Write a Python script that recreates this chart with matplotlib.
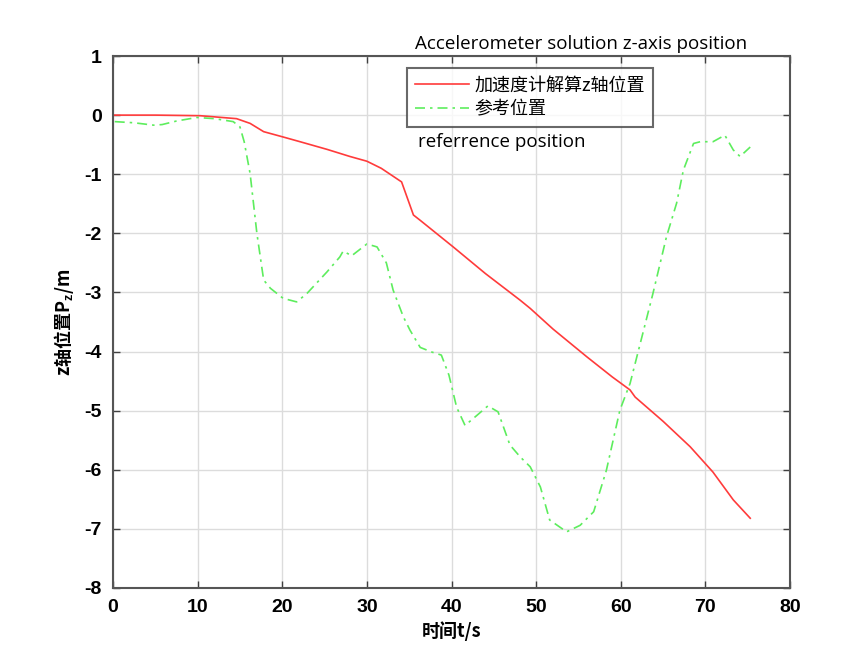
import matplotlib
matplotlib.use("Agg")
import matplotlib.pyplot as plt
from matplotlib import font_manager

# ---- data -------------------------------------------------------------------
acc_t = [0, 5, 10.3, 14.6, 16.2, 17.8, 20.1, 22.1, 25.3, 28.0, 30.0, 31.7, 34.1,
         35.5, 36.3, 40.2, 44.0, 48.1, 49.3, 52.0, 56.0, 59.0, 61.1, 61.7, 65.0,
         68.2, 70.9, 73.3, 75.3]
acc_z = [0.0, -0.0, -0.01, -0.06, -0.14, -0.28, -0.37, -0.45, -0.58, -0.70,
         -0.78, -0.90, -1.13, -1.69, -1.78, -2.23, -2.68, -3.13, -3.27, -3.62,
         -4.09, -4.43, -4.65, -4.77, -5.18, -5.61, -6.04, -6.51, -6.82]

ref_t = [0.2, 2.5, 4.8, 5.8, 7.5, 9.9, 12.0, 14.2, 15.0, 15.5, 16.2, 17.0, 17.8,
         18.6, 20.1, 21.7, 22.9, 25.3, 26.8, 27.2, 28.2, 30.0, 31.2, 32.3, 33.1,
         34.3, 35.1, 36.3, 37.7, 38.8, 39.7, 40.6, 41.6, 43.0, 44.3, 45.5, 46.9,
         48.1, 49.3, 50.5, 51.6, 53.6, 55.2, 56.8, 58.3, 59.9, 61.1, 62.7, 63.8,
         65.4, 66.6, 67.4, 68.6, 69.4, 70.9, 72.3, 73.3, 74.1, 75.3]
ref_z = [-0.11, -0.13, -0.17, -0.16, -0.10, -0.04, -0.06, -0.11, -0.20, -0.45,
         -0.99, -2.0, -2.79, -2.93, -3.10, -3.16, -3.02, -2.65, -2.40, -2.30,
         -2.38, -2.18, -2.23, -2.50, -2.96, -3.41, -3.64, -3.93, -4.01, -4.06,
         -4.40, -4.94, -5.25, -5.08, -4.92, -5.02, -5.58, -5.78, -5.95, -6.29,
         -6.85, -7.05, -6.94, -6.71, -6.01, -4.99, -4.54, -3.64, -3.02, -2.06,
         -1.49, -0.93, -0.48, -0.45, -0.45, -0.34, -0.59, -0.70, -0.54]

x_ticks = list(range(0, 81, 10))
y_ticks = list(range(-8, 2))

CJK = ["Noto Sans CJK SC", "DejaVu Sans"]
names = {f.name for f in font_manager.fontManager.ttflist}
NUM = ["Liberation Sans Narrow"] if "Liberation Sans Narrow" in names else ["Liberation Sans"]
LAT = ["Open Sans", "DejaVu Sans"]

plt.rcParams["font.family"] = CJK
plt.rcParams["mathtext.fontset"] = "custom"
plt.rcParams["mathtext.rm"] = "Liberation Sans:bold"
plt.rcParams["mathtext.it"] = "Liberation Sans:bold"

fig = plt.figure(figsize=(8.46, 6.52), dpi=100)
ax = fig.add_axes([0.1336, 0.0982, 0.8002, 0.8159])

ax.plot(acc_t, acc_z, color="#ff3b3b", lw=1.2, label="加速度计解算z轴位置")
ax.plot(ref_t, ref_z, color="#5ded5d", lw=1.2, ls=(0, (6, 3, 1.5, 3)),
        label="参考位置")

ax.set_xlim(0, 80)
ax.set_ylim(-8, 1)
ax.set_xticks(x_ticks)
ax.set_yticks(y_ticks)
ax.set_xticklabels([str(v) for v in x_ticks], family=NUM, fontweight="bold", fontsize=14)
ax.set_yticklabels([str(v) for v in y_ticks], family=NUM, fontweight="bold", fontsize=14)
ax.tick_params(direction="in", length=5, width=1, color="#404040",
               top=True, right=True, pad=8)
ax.grid(True, color="#dcdcdc", lw=1)
for s in ax.spines.values():
    s.set_color("#555555")
    s.set_linewidth(1.5)

ax.set_xlabel("时间t/s", fontsize=13, fontweight="bold", labelpad=4)
ax.set_ylabel("z轴位置P$_z$/m", fontsize=13, fontweight="bold", labelpad=6)

ax.text(0.446, 1.005, "Accelerometer solution z-axis position", transform=ax.transAxes,
        fontsize=13.5, ha="left", va="bottom", family=LAT)
ax.text(0.4505, 0.838, "referrence position", transform=ax.transAxes,
        fontsize=13.5, ha="left", va="center", family=LAT)

leg = ax.legend(loc="upper left", bbox_to_anchor=(0.434, 0.977), fontsize=13,
                frameon=True, fancybox=False, handlelength=3.0, handletextpad=0.3,
                borderpad=0.45, labelspacing=0.35, borderaxespad=0)
leg.get_frame().set_edgecolor("#444444")
leg.get_frame().set_linewidth(1.5)

fig.savefig("out.png", dpi=100)
